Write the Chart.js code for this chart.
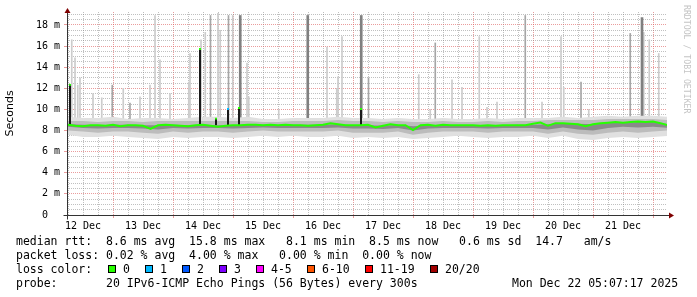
<!DOCTYPE html>
<html>
<head>
<meta charset="utf-8">
<script src="https://cdn.jsdelivr.net/npm/chart.js@4.4.1/dist/chart.umd.min.js"></script>
<style>
  html, body { margin: 0; padding: 0; background: #fff; }
  #wrap { position: relative; width: 697px; height: 297px; overflow: hidden; background: #fff; }
  #chart { position: absolute; left: 0; top: 0; }
  .txt { position: absolute; font-family: 'DejaVu Sans Mono', monospace; font-size: 11.5px; line-height: 14px; white-space: pre; color: #000; }
  .box { position: absolute; width: 6px; height: 6px; border: 1px solid #000; }
  #credit { position: absolute; left: 682px; top: 5px; writing-mode: vertical-rl; font-family: 'DejaVu Sans Mono', monospace; font-size: 8.2px; line-height: 10px; color: #c4c4c4; white-space: pre; }
</style>
</head>
<body>
<div id="wrap">
  <canvas id="chart" width="697" height="297"></canvas>
  <div class="txt" style="left:16px; top:234px;">median rtt:  8.6 ms avg  15.8 ms max   8.1 ms min  8.5 ms now   0.6 ms sd  14.7   am/s</div>
  <div class="txt" style="left:16px; top:248px;">packet loss: 0.02 % avg  4.00 % max   0.00 % min  0.00 % now</div>
  <div class="txt" style="left:16px; top:262px;">loss color:</div>
  <div class="txt" style="left:16px; top:276px;">probe:       20 IPv6-ICMP Echo Pings (56 Bytes) every 300s</div>
  <div class="txt" style="left:512px; top:276px;">Mon Dec 22 05:07:17 2025</div>
  <div id="credit">RRDTOOL / TOBI OETIKER</div>
</div>
<script>
// x axis runs in hours since 12 Dec 00:00
const startHour = 5.6;
const endHour = 245.6;
const dayLabels = ['12 Dec', '13 Dec', '14 Dec', '15 Dec', '16 Dec', '17 Dec', '18 Dec', '19 Dec', '20 Dec', '21 Dec'];

// median rtt (ms), one value every 3 hours from 06:00 on 12 Dec
const medStep = 3;
const medValues = [
  8.55, 8.45, 8.4, 8.5, 8.5, 8.45, 8.55, 8.4, 8.5, 8.5,
  8.45, 8.15, 8.5, 8.55, 8.5, 8.45, 8.4, 8.5, 8.55, 8.45,
  8.35, 8.45, 8.5, 8.5, 8.55, 8.55, 8.5, 8.55, 8.5, 8.55,
  8.5, 8.5, 8.45, 8.5, 8.55, 8.7, 8.6, 8.5, 8.5, 8.5,
  8.55, 8.3, 8.45, 8.6, 8.5, 8.5, 8.05, 8.5, 8.55, 8.45,
  8.55, 8.5, 8.5, 8.5, 8.5, 8.45, 8.5, 8.45, 8.5, 8.5,
  8.5, 8.5, 8.65, 8.75, 8.45, 8.7, 8.7, 8.65, 8.6, 8.4,
  8.6, 8.7, 8.75, 8.8, 8.75, 8.8, 8.85, 8.8, 8.85, 8.7,
  8.5
];

// smoke band edges (ms), one value every 6 hours from 06:00 on 12 Dec
const bandStep = 6;
const outerHi = [9.3, 9.2, 9.2, 9.3, 9.1, 9.2, 9.2, 9.1, 9.2, 9.3, 9.3, 9.2, 9.3, 9.1, 9.1, 9.2, 9.2, 9.2, 9.3, 9.2, 9.2, 9.1, 9.2, 9.1, 9.1, 9.2, 9.1, 9.1, 9.2, 9.1, 9.2, 9.2, 9.2, 9.3, 9.2, 9.3, 9.4, 9.3, 9.4, 9.4, 9.3];
const outerLo = [7.6, 7.4, 7.4, 7.5, 7.4, 7.3, 7.2, 7.4, 7.3, 7.4, 7.4, 7.3, 7.4, 7.5, 7.4, 7.5, 7.4, 7.4, 7.5, 7.3, 7.4, 7.3, 7.4, 7.2, 7.3, 7.4, 7.5, 7.4, 7.3, 7.4, 7.4, 7.5, 7.3, 7.5, 7.2, 7.1, 7.3, 7.4, 7.3, 7.4, 7.5];
const midHi = [8.9, 8.9, 8.8, 8.9, 8.9, 8.8, 8.9, 8.9, 8.9, 8.9, 8.9, 8.9, 8.9, 8.8, 8.8, 8.9, 8.9, 8.9, 9.0, 8.9, 8.9, 8.8, 8.9, 8.8, 8.8, 8.9, 8.8, 8.8, 8.9, 8.8, 8.9, 8.9, 9.0, 9.0, 9.0, 9.0, 9.1, 9.1, 9.1, 9.1, 9.0];
const midLo = [8.0, 7.9, 7.8, 7.9, 7.9, 7.8, 7.7, 7.9, 7.8, 7.9, 7.9, 7.8, 7.9, 8.0, 7.9, 7.9, 7.9, 7.9, 8.0, 7.8, 7.8, 7.8, 7.9, 7.6, 7.8, 7.9, 7.9, 7.9, 7.8, 7.9, 7.9, 7.9, 7.7, 7.9, 7.7, 7.6, 7.8, 7.9, 7.8, 7.9, 8.0];
const darkHi = [8.6, 8.55, 8.5, 8.55, 8.55, 8.5, 8.5, 8.55, 8.5, 8.55, 8.5, 8.5, 8.55, 8.55, 8.5, 8.55, 8.55, 8.55, 8.6, 8.5, 8.5, 8.45, 8.55, 8.4, 8.5, 8.55, 8.5, 8.5, 8.5, 8.5, 8.55, 8.55, 8.6, 8.7, 8.65, 8.6, 8.75, 8.75, 8.8, 8.8, 8.6];
const darkLo = [8.35, 8.25, 8.2, 8.25, 8.25, 8.2, 8.1, 8.25, 8.2, 8.25, 8.25, 8.2, 8.25, 8.3, 8.25, 8.25, 8.25, 8.25, 8.3, 8.2, 8.2, 8.15, 8.25, 8.0, 8.2, 8.25, 8.25, 8.25, 8.2, 8.25, 8.25, 8.25, 8.1, 8.3, 8.1, 8.0, 8.25, 8.35, 8.3, 8.35, 8.25];

// single-ping spikes (hour, top in ms)
const lightSpikeHours = [7.5, 8.8, 9.9, 10.8, 16.0, 19.5, 28.1, 34.8, 38.8, 40.8, 42.8, 46.8, 54.3, 54.8, 59.2, 60.9, 66.0, 66.9, 71.9, 77.6, 78.3, 90.3, 109.6, 113.5, 114.0, 115.6, 146.3, 150.9, 159.6, 163.6, 170.5, 173.6, 177.6, 195.6, 203.2, 204.3, 214.3, 236.3, 238.5, 242.3];
const lightSpikeTops = [16.6, 14.9, 12.3, 13.0, 11.5, 11.1, 12.0, 11.2, 12.3, 18.9, 14.7, 11.5, 12.6, 15.3, 16.6, 17.3, 19.1, 17.5, 18.9, 14.4, 11.2, 10.0, 15.9, 12.0, 13.1, 16.9, 13.3, 10.0, 12.8, 12.1, 16.9, 10.2, 10.7, 10.7, 16.9, 12.1, 10.0, 17.3, 16.6, 15.3];
const midSpikeHours = [23.7, 30.8, 63.0, 70.2, 126.2, 152.9, 188.9, 211.2, 230.9];
const midSpikeTops = [12.3, 10.6, 18.9, 18.9, 13.0, 16.3, 18.9, 12.6, 17.2];
const darkSpikeHours = [74.9, 101.9, 123.3, 235.6];
const darkSpikeTops = [18.9, 18.9, 18.9, 18.7];

// median spikes (hour, median in ms, lost pings)
const medSpikeHours = [6.8, 58.8, 65.2, 70.0, 74.4, 123.2];
const medSpikeTops = [12.4, 15.8, 9.2, 10.1, 10.2, 10.1];
const medSpikeLoss = [0, 0, 0, 1, 0, 0];

const lossLabels = ['0', '1', '2', '3', '4-5', '6-10', '11-19', '20/20'];
const lossColors = ['#26ff00', '#00b8ff', '#0059ff', '#7e00ff', '#ff00ff', '#ff5500', '#ff0000', '#a10000'];

const yMax = 19.23;
const majorGrid = 'rgba(220,90,90,0.6)';
const minorGrid = 'rgba(130,130,130,0.5)';

// loss colour legend boxes
const wrap = document.getElementById('wrap');
let boxX = 108;
lossLabels.forEach((lab, i) => {
    const b = document.createElement('div');
    b.className = 'box';
    b.style.left = boxX + 'px';
    b.style.top = '265px';
    b.style.background = lossColors[i];
    wrap.appendChild(b);
    const t = document.createElement('div');
    t.className = 'txt';
    t.style.left = (boxX + 15) + 'px';
    t.style.top = '262px';
    t.textContent = lab;
    wrap.appendChild(t);
    boxX += 30 + 7 * lab.length;
});

function series(step, values) {
    return values.map((v, i) => ({ x: 6 + i * step, y: v }));
}

function spikes(hours, tops, base) {
    return hours.map((h, i) => ({ x: h, y: [base, tops[i]] }));
}

function bandLine(values, color, fillTarget, order) {
    return {
        type: 'line',
        data: series(bandStep, values),
        borderColor: 'rgba(0,0,0,0)',
        borderWidth: 0,
        pointRadius: 0,
        backgroundColor: color,
        fill: fillTarget === null ? false : { target: fillTarget },
        order: order
    };
}

// axis lines and rrdtool style arrows
const axisArrows = {
    id: 'axisArrows',
    afterDraw(chart) {
        const { ctx, chartArea: a } = chart;
        const x0 = Math.round(a.left) + 0.5;
        const y0 = Math.round(a.bottom) + 0.5;
        ctx.save();
        ctx.strokeStyle = '#333';
        ctx.lineWidth = 1;
        ctx.beginPath();
        ctx.moveTo(x0 - 4, y0);
        ctx.lineTo(a.right + 2, y0);
        ctx.moveTo(x0, y0 + 4);
        ctx.lineTo(x0, a.top - 1);
        ctx.stroke();
        ctx.fillStyle = '#7f0000';
        ctx.beginPath();
        ctx.moveTo(a.right + 7, y0);
        ctx.lineTo(a.right + 2, y0 - 3);
        ctx.lineTo(a.right + 2, y0 + 3);
        ctx.closePath();
        ctx.fill();
        ctx.beginPath();
        ctx.moveTo(x0, a.top - 4);
        ctx.lineTo(x0 - 3, a.top + 1);
        ctx.lineTo(x0 + 3, a.top + 1);
        ctx.closePath();
        ctx.fill();
        ctx.restore();
    }
};

new Chart(document.getElementById('chart').getContext('2d'), {
    type: 'line',
    data: {
        datasets: [
            {
                type: 'line',
                data: series(medStep, medValues),
                borderColor: '#26ff00',
                borderWidth: 2,
                pointRadius: 0,
                tension: 0,
                fill: false,
                order: 0
            },
            {
                type: 'bar',
                data: spikes(medSpikeHours, medSpikeTops, 8.5),
                backgroundColor: '#1a1a1a',
                borderColor: medSpikeLoss.map(l => lossColors[l]),
                borderWidth: { top: 2, left: 0, right: 0, bottom: 0 },
                borderSkipped: false,
                barThickness: 2,
                grouped: false,
                order: 1
            },
            bandLine(darkHi, '#8a8a8a', 3, 2),
            bandLine(darkLo, '#8a8a8a', null, 2),
            bandLine(midHi, '#bcbcbc', 5, 3),
            bandLine(midLo, '#bcbcbc', null, 3),
            bandLine(outerHi, '#e0e0e0', 7, 4),
            bandLine(outerLo, '#e0e0e0', null, 4),
            {
                type: 'bar',
                data: spikes(darkSpikeHours, darkSpikeTops, 8.6),
                backgroundColor: '#808080',
                barThickness: 2,
                grouped: false,
                order: 5
            },
            {
                type: 'bar',
                data: spikes(midSpikeHours, midSpikeTops, 8.6),
                backgroundColor: '#a6a6a6',
                barThickness: 1,
                grouped: false,
                order: 6
            },
            {
                type: 'bar',
                data: spikes(lightSpikeHours, lightSpikeTops, 8.6),
                backgroundColor: '#cccccc',
                barThickness: 1,
                grouped: false,
                order: 7
            }
        ]
    },
    options: {
        responsive: false,
        animation: false,
        devicePixelRatio: 1,
        layout: { padding: { left: 0, right: 30, top: 12, bottom: 66 } },
        plugins: {
            legend: { display: false },
            tooltip: { enabled: false }
        },
        scales: {
            x: {
                type: 'linear',
                min: startHour,
                max: endHour,
                offset: false,
                afterBuildTicks: (scale) => {
                    const t = [];
                    for (let h = 6; h <= endHour; h += 6) t.push({ value: h });
                    scale.ticks = t;
                },
                afterFit: (scale) => { scale.height = 16; },
                grid: {
                    offset: false,
                    lineWidth: 1,
                    color: (c) => c.tick && c.tick.value % 24 === 0 ? majorGrid : minorGrid,
                    tickColor: (c) => c.tick && c.tick.value % 24 === 0 ? majorGrid : 'rgba(0,0,0,0)',
                    tickLength: 3
                },
                border: { display: false, dash: [1, 1] },
                ticks: {
                    autoSkip: false,
                    maxRotation: 0,
                    minRotation: 0,
                    padding: 2,
                    color: '#000',
                    font: { family: 'DejaVu Sans Mono', size: 10 },
                    callback: (v) => (v % 24 === 12 ? dayLabels[(v - 12) / 24] : '')
                }
            },
            y: {
                type: 'linear',
                min: 0,
                max: yMax,
                afterBuildTicks: (scale) => {
                    const t = [];
                    for (let v = 0; v <= 19; v += 0.5) t.push({ value: v });
                    scale.ticks = t;
                },
                afterFit: (scale) => { scale.width = 67; },
                grid: {
                    lineWidth: 1,
                    color: (c) => c.tick && c.tick.value % 2 === 0 ? majorGrid : minorGrid,
                    tickColor: (c) => c.tick && c.tick.value % 2 === 0 ? majorGrid : 'rgba(0,0,0,0)',
                    tickLength: 3
                },
                border: { display: false, dash: [1, 1] },
                title: {
                    display: true,
                    text: 'Seconds',
                    color: '#000',
                    font: { family: 'DejaVu Sans', size: 11 },
                    padding: { top: 4, bottom: 0 }
                },
                ticks: {
                    autoSkip: false,
                    padding: 4,
                    color: '#000',
                    font: { family: 'DejaVu Sans Mono', size: 10 },
                    callback: (v) => (v % 2 === 0 ? (v === 0 ? '0  ' : v + ' m') : '')
                }
            }
        }
    },
    plugins: [axisArrows]
});
</script>
</body>
</html>
